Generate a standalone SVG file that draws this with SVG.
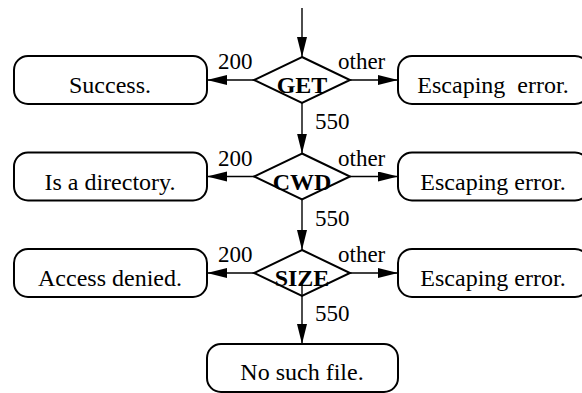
<svg xmlns="http://www.w3.org/2000/svg" width="582" height="393" viewBox="0 0 582 393">
<style>
.box{fill:#fff;stroke:#000;stroke-width:2}
.dia{fill:#fff;stroke:#000;stroke-width:2}
.t{font-family:"Liberation Serif","Times New Roman",serif;font-size:24px;fill:#000;text-anchor:middle}
.b{font-weight:bold}
.lbl{font-family:"Liberation Serif","Times New Roman",serif;font-size:23px;fill:#000}
.c{fill:none;stroke:#000;stroke-width:1.4}
</style>
<defs>
<marker id="ah" markerUnits="userSpaceOnUse" markerWidth="21" markerHeight="11" refX="20" refY="5" orient="auto">
<path d="M0,0 L20,5 L0,10 z" fill="#000"/>
</marker>
</defs>
<rect width="582" height="393" fill="#fff"/>
<g id="connectors">
<path class="c" d="M302,8 V57" marker-end="url(#ah)"/>
<path class="c" d="M254,80 H207" marker-end="url(#ah)"/>
<path class="c" d="M350,80 H398" marker-end="url(#ah)"/>
<path class="c" d="M302,103 V153.5" marker-end="url(#ah)"/>
<path class="c" d="M254,176.5 H207" marker-end="url(#ah)"/>
<path class="c" d="M350,176.5 H398" marker-end="url(#ah)"/>
<path class="c" d="M302,199.5 V250" marker-end="url(#ah)"/>
<path class="c" d="M254,273 H207" marker-end="url(#ah)"/>
<path class="c" d="M350,273 H398" marker-end="url(#ah)"/>
<text class="lbl" x="218" y="69">200</text>
<text class="lbl" x="338" y="69">other</text>
<text class="lbl" x="315" y="129">550</text>
<text class="lbl" x="218" y="165.5">200</text>
<text class="lbl" x="338" y="165.5">other</text>
<text class="lbl" x="315" y="225.5">550</text>
<text class="lbl" x="218" y="262">200</text>
<text class="lbl" x="338" y="262">other</text>
<text class="lbl" x="315" y="321">550</text>
</g>
<g id="get">
<polygon class="dia" points="302,57 350,80 302,103 254,80"/>
<text class="t b" x="302" y="93">GET</text>
</g>
<g id="success">
<rect class="box" x="14" y="56" width="193" height="48" rx="14"/>
<text class="t" x="110" y="93">Success.</text>
</g>
<g id="esc1">
<rect class="box" x="398" y="56" width="191" height="48" rx="14"/>
<text class="t" x="493" y="93" xml:space="preserve">Escaping  error.</text>
</g>
<g id="cwd">
<polygon class="dia" points="302,153.5 350,176.5 302,199.5 254,176.5"/>
<text class="t b" x="302" y="189.5">CWD</text>
</g>
<g id="isdir">
<rect class="box" x="14" y="152.5" width="193" height="48" rx="14"/>
<text class="t" x="110" y="189.5">Is a directory.</text>
</g>
<g id="esc2">
<rect class="box" x="398" y="152.5" width="191" height="48" rx="14"/>
<text class="t" x="493" y="189.5">Escaping error.</text>
</g>
<g id="size">
<polygon class="dia" points="302,250 350,273 302,296 254,273"/>
<text class="t b" x="302" y="286">SIZE</text>
</g>
<g id="denied">
<rect class="box" x="14" y="249" width="193" height="48" rx="14"/>
<text class="t" x="110" y="286">Access denied.</text>
</g>
<g id="esc3">
<rect class="box" x="398" y="249" width="191" height="48" rx="14"/>
<text class="t" x="493" y="286">Escaping error.</text>
</g>
<path class="c" d="M302,283 V344" marker-end="url(#ah)"/>
<g id="nosuch">
<rect class="box" x="207" y="344" width="191" height="48" rx="14"/>
<text class="t" x="302" y="380">No such file.</text>
</g>
</svg>
